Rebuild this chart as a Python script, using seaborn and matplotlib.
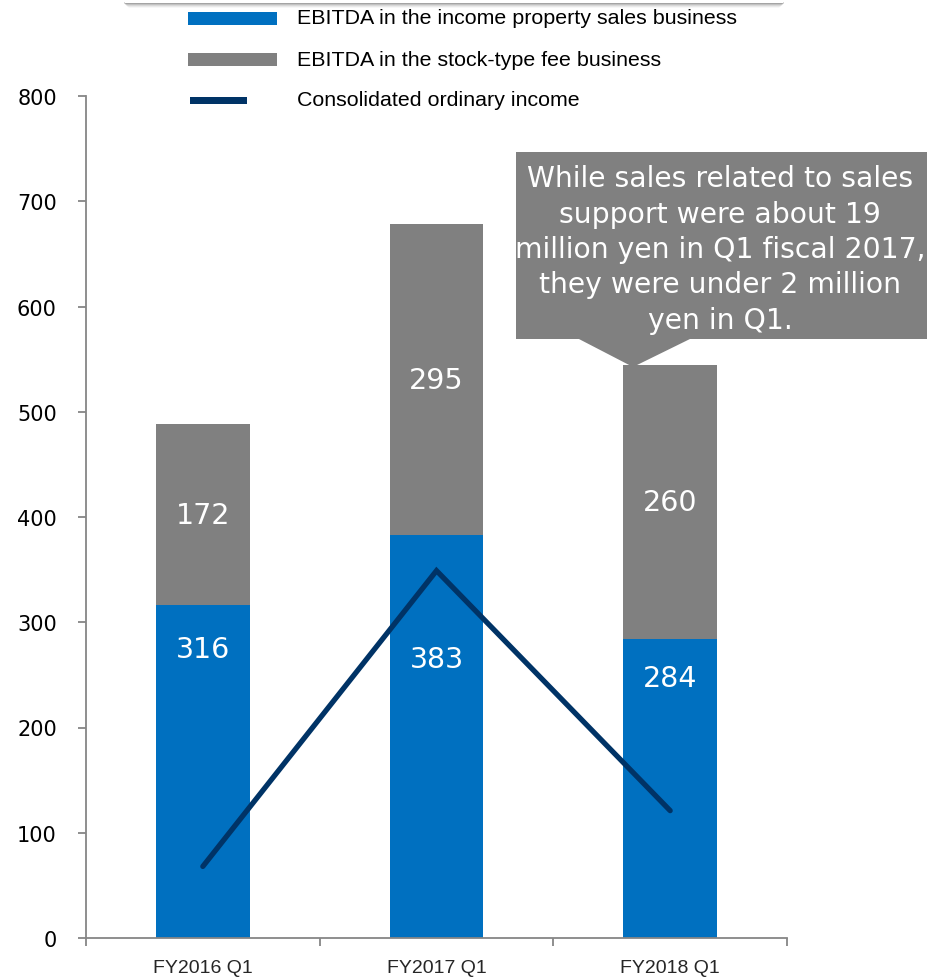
import numpy as np
import pandas as pd
import matplotlib
matplotlib.use("Agg")
import matplotlib.pyplot as plt
import seaborn as sns
from matplotlib.patches import Rectangle, Polygon
from matplotlib.lines import Line2D

# --- data -------------------------------------------------------------
quarters = ["FY2016 Q1", "FY2017 Q1", "FY2018 Q1"]
property_sales_ebitda = [316, 383, 284]
stock_fee_ebitda = [172, 295, 260]
ordinary_income = [68, 349, 121]

series_names = [
    "EBITDA in the income property sales business",
    "EBITDA in the stock-type fee business",
    "Consolidated ordinary income",
]
y_ticks = [0, 100, 200, 300, 400, 500, 600, 700, 800]
note_text = ("While sales related to sales\nsupport were about 19\n"
             "million yen in Q1 fiscal 2017,\nthey were under 2 million\n"
             "yen in Q1.")

# --- style ------------------------------------------------------------
BLUE = "#0070C0"
GRAY = "#808080"
NAVY = "#003366"
AXIS = "#868686"
W, H = 928, 979

sns.set_theme(style="white")
plt.rcParams["font.family"] = ["DejaVu Sans"]

df = pd.DataFrame({
    "quarter": quarters,
    "sales": property_sales_ebitda,
    "fee": stock_fee_ebitda,
    "income": ordinary_income,
})
df["total"] = df["sales"] + df["fee"]

fig = plt.figure(figsize=(W / 100, H / 100), dpi=100)
ax = fig.add_axes([86 / W, 1 - 939 / H, 701 / W, (939 - 97) / H])

# stacked bars: full total in gray, property-sales part in blue on top of it
sns.barplot(data=df, x="quarter", y="total", color=GRAY, width=0.4,
            saturation=1, linewidth=0, ax=ax)
sns.barplot(data=df, x="quarter", y="sales", color=BLUE, width=0.4,
            saturation=1, linewidth=0, ax=ax)
sns.lineplot(data=df, x="quarter", y="income", color=NAVY, lw=3.8,
             sort=False, ax=ax, solid_joinstyle="miter")

ax.set_xlim(-0.5, 2.5)
ax.set_ylim(0, 800)
ax.set_yticks(y_ticks)
ax.set_xlabel("")
ax.set_ylabel("")
for s in ["top", "right"]:
    ax.spines[s].set_visible(False)
for s in ["left", "bottom"]:
    ax.spines[s].set_color(AXIS)
    ax.spines[s].set_linewidth(1.3)

ax.tick_params(axis="y", direction="out", length=6, width=1.3, color=AXIS,
               pad=15, labelsize=15, labelcolor="black", left=True)
ax.set_xticks([-0.5, 0.5, 1.5, 2.5], minor=False)
ax.set_xticklabels([])
ax.set_xticks(range(len(quarters)), minor=True)
ax.set_xticklabels(quarters, minor=True,
                   family=["Liberation Sans Narrow", "Liberation Sans"],
                   fontsize=14)
ax.tick_params(axis="x", which="major", direction="out", length=6,
               width=1.3, color=AXIS, bottom=True)
ax.tick_params(axis="x", which="minor", length=0, pad=15, bottom=True)

# value labels
blue_label_drop = [41, 118, 37]
for i, (s, f) in enumerate(zip(property_sales_ebitda, stock_fee_ebitda)):
    ax.text(i, s + f / 2, str(f), ha="center", va="center", color="white",
            fontsize=20.5)
    ax.text(i, s - blue_label_drop[i], str(s), ha="center", va="center",
            color="white", fontsize=20.5)

# callout box with pointer toward the FY2018 bar
fx = lambda px: px / W
fy = lambda py: 1 - py / H
fig.patches.append(Rectangle((fx(516), fy(340)), fx(412), 187 / H,
                             transform=fig.transFigure, facecolor=GRAY,
                             edgecolor="none", zorder=5))
fig.patches.append(Polygon([(fx(577), fy(339)), (fx(692), fy(339)),
                            (fx(633), fy(368))], closed=True,
                           transform=fig.transFigure, facecolor=GRAY,
                           edgecolor="none", zorder=5))
fig.text(fx(720), fy(250), note_text, ha="center", va="center",
         color="white", fontsize=20.3, linespacing=1.34, zorder=6)

# legend drawn as a panel across the top
for k, alpha in enumerate([0.45, 0.3, 0.18, 0.1, 0.05]):
    fig.add_artist(Line2D([fx(125 + k), fx(783 - k)], [fy(4 + k), fy(4 + k)],
                          transform=fig.transFigure, color="#555555",
                          alpha=alpha, lw=1.2))
fig.patches.append(Rectangle((fx(125), fy(4)), fx(658), 20 / H,
                             transform=fig.transFigure, facecolor="white",
                             edgecolor="none", zorder=3))
legend_rows = [19, 60, 101]
legend_colors = [BLUE, GRAY, NAVY]
legend_extent = [(188, 277, 13), (188, 277, 13), (190, 247, 7)]
for name, row, col, (x0, x1, h) in zip(series_names, legend_rows,
                                       legend_colors, legend_extent):
    fig.patches.append(Rectangle((fx(x0), fy(row + h / 2)), fx(x1 - x0),
                                 h / H, transform=fig.transFigure,
                                 facecolor=col, edgecolor="none"))
    fig.text(fx(297), fy(row), name, ha="left", va="center",
             family=["Liberation Sans"], fontsize=15.4, color="black")

fig.savefig("out.png", dpi=100)
